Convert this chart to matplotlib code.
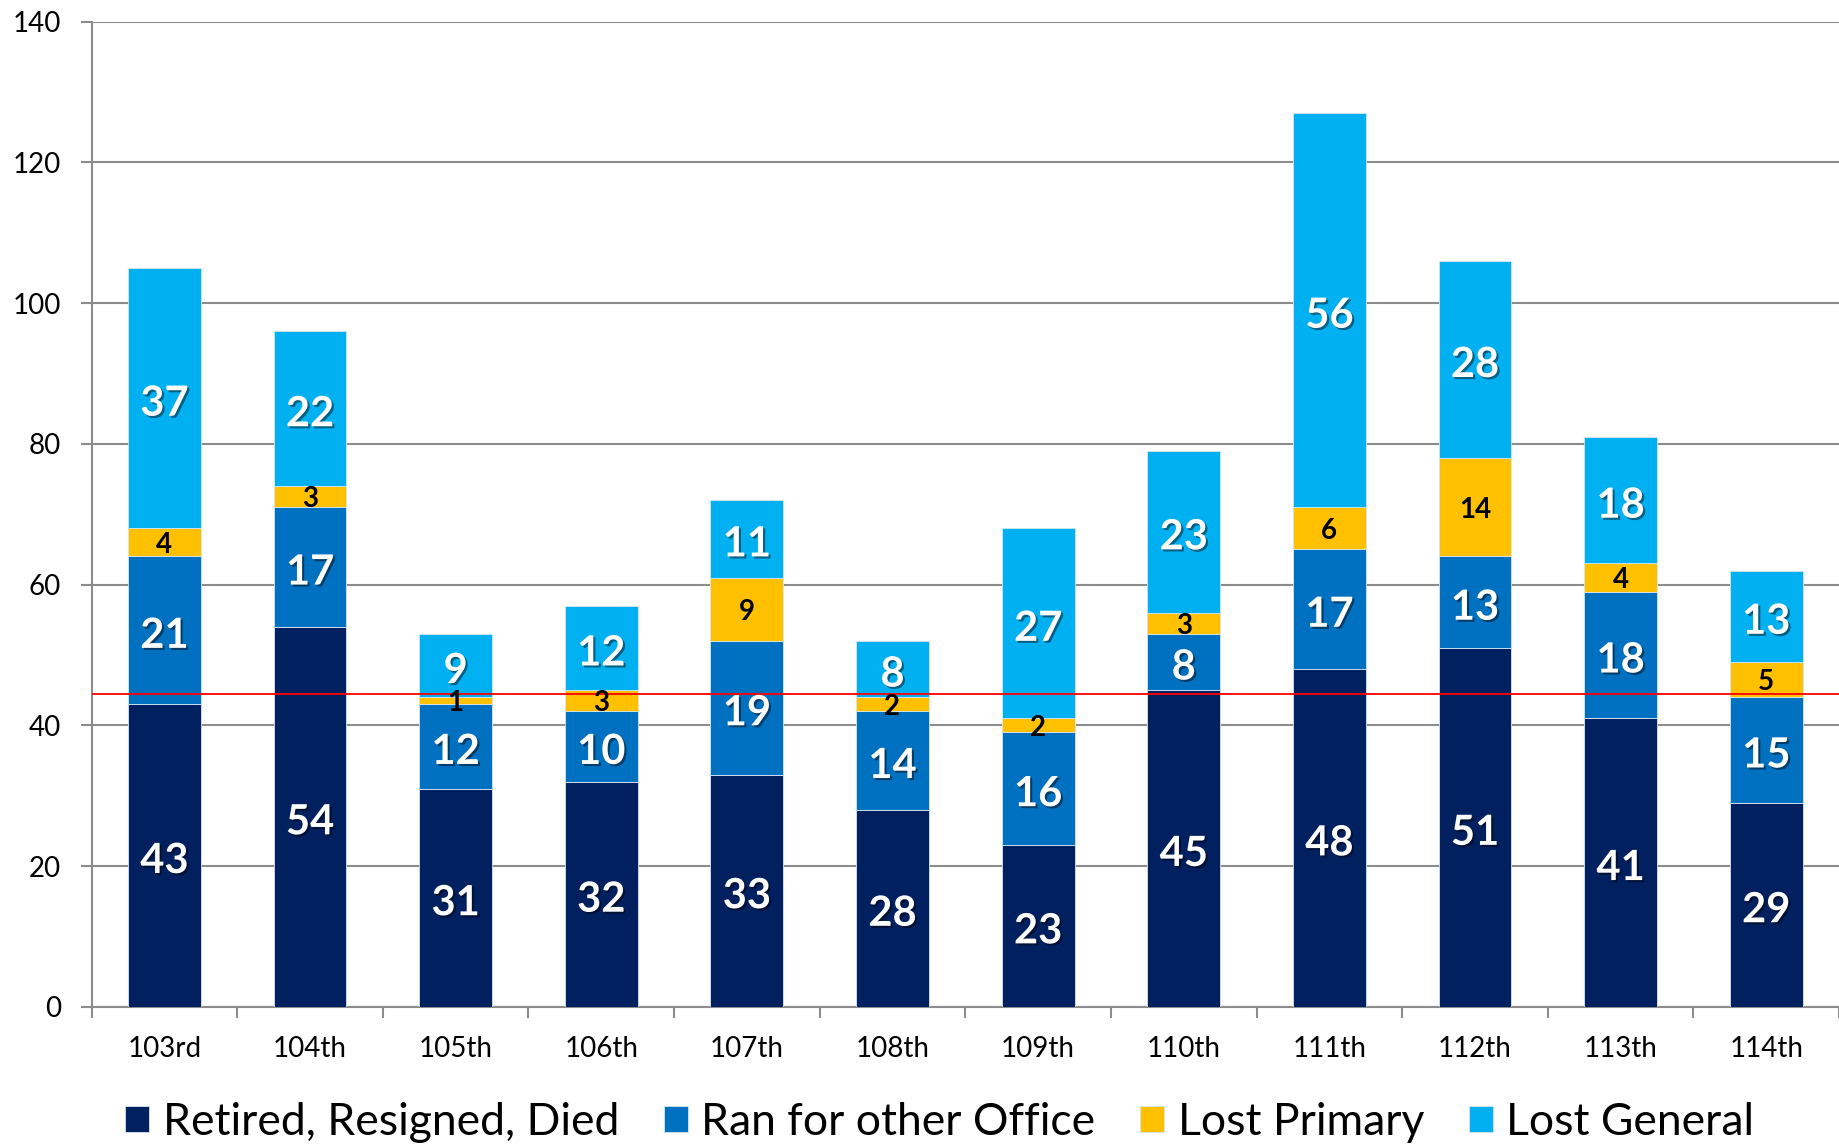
import matplotlib
matplotlib.use("Agg")
import matplotlib.pyplot as plt
import matplotlib.patheffects as pe
import numpy as np

plt.rcParams['font.family'] = ['Lato', 'DejaVu Sans']

congresses = ["103rd", "104th", "105th", "106th", "107th", "108th",
              "109th", "110th", "111th", "112th", "113th", "114th"]
retired = [43, 54, 31, 32, 33, 28, 23, 45, 48, 51, 41, 29]
ran_other = [21, 17, 12, 10, 19, 14, 16, 8, 17, 13, 18, 15]
lost_primary = [4, 3, 1, 3, 9, 2, 2, 3, 6, 14, 4, 5]
lost_general = [37, 22, 9, 12, 11, 8, 27, 23, 56, 28, 18, 13]
series_names = ["Retired, Resigned, Died", "Ran for other Office",
                "Lost Primary", "Lost General"]
reference_line = 44.5

colors = ["#002060", "#0070C0", "#FFC000", "#00B0F0"]

fig = plt.figure(figsize=(18.39, 11.44), dpi=100)
ax = fig.add_axes([0.0498, 0.120, 0.9502, 0.861])

x = np.arange(len(congresses))
bottom = np.zeros(len(congresses))
shadow = [pe.SimplePatchShadow(offset=(1.5, -1.5), shadow_rgbFace="black",
                               alpha=0.45), pe.Normal()]
for vals, name, col in zip([retired, ran_other, lost_primary, lost_general],
                           series_names, colors):
    vals = np.array(vals)
    ax.bar(x, vals, bottom=bottom, width=0.5, color=col, label=name,
           edgecolor="#d6e6f2", linewidth=0.6, zorder=3)
    for xi, b, v in zip(x, bottom, vals):
        if col == "#FFC000":
            ax.annotate(str(v), (xi, b + v / 2), xytext=(0, -2),
                        textcoords="offset points", ha="center", va="center",
                        fontsize=20, fontweight="bold", color="black",
                        zorder=5)
        else:
            ax.annotate(str(v), (xi, b + v / 2), xytext=(0, -4),
                        textcoords="offset points", ha="center", va="center",
                        fontsize=30, fontweight="bold", color="white",
                        path_effects=shadow, zorder=5)
    bottom = bottom + vals

ax.axhline(reference_line, color="#ff0000", linewidth=1.3, zorder=4)

ax.set_xlim(-0.5, len(congresses) - 0.5)
ax.set_ylim(0, 140)
ax.set_yticks(np.arange(0, 141, 20))
ax.yaxis.grid(True, color="#8c8c8c", linewidth=1.5, zorder=0)
ax.set_axisbelow(True)

ax.set_xticks(x)
ax.set_xticklabels(congresses)
ax.set_xticks(np.arange(-0.5, len(congresses), 1), minor=True)
ax.tick_params(axis="x", which="major", length=0, pad=21, labelsize=20)
ax.tick_params(axis="x", which="minor", length=8, width=1.5,
               color="#8c8c8c", direction="out")
ax.tick_params(axis="y", length=8, width=1.5, color="#8c8c8c",
               pad=14, labelsize=20)

for s in ["top", "right"]:
    ax.spines[s].set_visible(False)
for s in ["left", "bottom"]:
    ax.spines[s].set_color("#8c8c8c")
    ax.spines[s].set_linewidth(1.5)

fig.legend(loc="center", bbox_to_anchor=(0.511, 0.019), ncol=4,
           frameon=False, fontsize=32, handlelength=0.55, handleheight=0.55,
           handletextpad=0.3, columnspacing=1.0, borderpad=0)

fig.savefig("out.png", dpi=100)
plt.close(fig)
